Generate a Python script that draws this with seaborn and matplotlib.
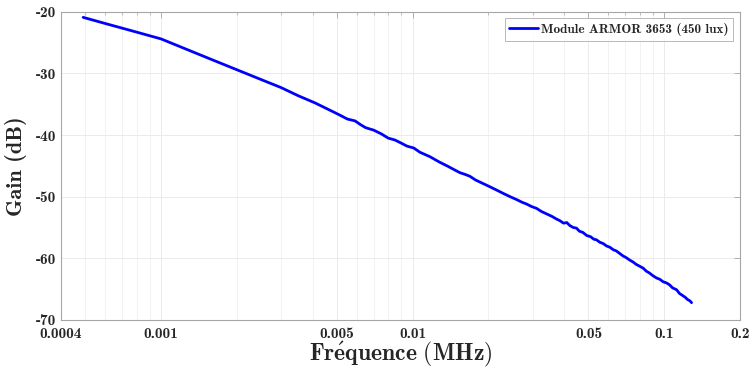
import numpy as np
import pandas as pd
import seaborn as sns
import matplotlib.pyplot as plt
from matplotlib import ticker

# values (frequency in MHz, gain in dB)
freq_mhz = [0.00049, 0.0006, 0.0008, 0.001, 0.0013, 0.0016, 0.002, 0.0025, 0.003, 0.0035,
            0.0041, 0.0046, 0.0051, 0.0055, 0.0059, 0.0062, 0.0065, 0.007, 0.0075, 0.008,
            0.0085, 0.009, 0.0095, 0.0101, 0.0107, 0.0117, 0.0128, 0.0137, 0.0146, 0.0154,
            0.0162, 0.0169, 0.0178, 0.0189, 0.0203, 0.0215, 0.023, 0.0244, 0.026, 0.0272,
            0.0284, 0.0297, 0.0311, 0.0325, 0.0341, 0.0358, 0.0372, 0.0385, 0.0398, 0.041,
            0.0422, 0.0435, 0.0448, 0.046, 0.0475, 0.0492, 0.051, 0.0525, 0.0538, 0.0555,
            0.0572, 0.059, 0.0608, 0.0627, 0.0645, 0.0665, 0.0685, 0.0707, 0.073, 0.0752,
            0.0775, 0.08, 0.0825, 0.085, 0.0875, 0.09, 0.0933, 0.096, 0.099, 0.1022,
            0.105, 0.108, 0.112, 0.115, 0.118, 0.121, 0.124, 0.1265, 0.1285]
gain_db = [-20.9, -21.9, -23.3, -24.4, -26.3, -27.8, -29.4, -31.0, -32.3, -33.6,
           -34.8, -35.8, -36.7, -37.4, -37.7, -38.3, -38.8, -39.2, -39.8, -40.5,
           -40.8, -41.3, -41.8, -42.1, -42.8, -43.5, -44.4, -45.0, -45.6, -46.1,
           -46.4, -46.7, -47.3, -47.8, -48.4, -48.9, -49.5, -50.0, -50.5, -50.9,
           -51.2, -51.6, -51.9, -52.4, -52.8, -53.2, -53.6, -53.9, -54.3, -54.2,
           -54.7, -55.0, -55.1, -55.6, -55.8, -56.3, -56.5, -56.9, -57.0, -57.4,
           -57.6, -58.0, -58.2, -58.6, -58.8, -59.2, -59.6, -59.9, -60.3, -60.6,
           -61.0, -61.3, -61.6, -62.1, -62.4, -62.8, -63.2, -63.4, -63.8, -64.0,
           -64.3, -64.8, -65.1, -65.7, -66.0, -66.3, -66.7, -66.9, -67.2]
series_name = 'Module ARMOR 3653 (450 lux)'
xtick_vals = [0.0004, 0.001, 0.005, 0.01, 0.05, 0.1, 0.2]
xtick_labels = ['0.0004', '0.001', '0.005', '0.01', '0.05', '0.1', '0.2']
ytick_vals = [-70, -60, -50, -40, -30, -20]

df = pd.DataFrame({'freq': freq_mhz, 'gain': gain_db, 'serie': series_name})

sns.set_theme(style='white')
plt.rcParams['font.family'] = ['cmb10', 'DejaVu Serif']
plt.rcParams['mathtext.fontset'] = 'cm'
plt.rcParams['axes.unicode_minus'] = False
plt.rcParams['axes.formatter.use_mathtext'] = False

fig = plt.figure(figsize=(7.56, 3.69), dpi=100)
ax = fig.add_axes([0.0807, 0.133, 0.898, 0.835])

sns.lineplot(data=df, x='freq', y='gain', hue='serie', palette=['#0000ff'],
             linewidth=2.0, ax=ax)

ax.set_xscale('log')
ax.set_xlim(0.0004, 0.2)
ax.set_ylim(-70, -20)
ax.xaxis.set_major_locator(ticker.FixedLocator(xtick_vals))
ax.xaxis.set_major_formatter(ticker.FixedFormatter(xtick_labels))
ax.xaxis.set_minor_locator(ticker.LogLocator(base=10, subs=np.arange(2, 10), numticks=20))
ax.xaxis.set_minor_formatter(ticker.NullFormatter())
ax.set_yticks(ytick_vals)
ax.set_yticklabels([str(v) for v in ytick_vals])

ax.grid(which='major', color='#ebebeb', linewidth=0.7)
ax.grid(which='minor', axis='x', color='#f0f0f0', linewidth=0.6)
ax.tick_params(which='both', direction='in', top=True, right=True, colors='#a6a6a6',
               labelcolor='#262626', labelsize=11)
ax.tick_params(axis='x', which='major', pad=5)
ax.tick_params(which='major', length=4, width=0.6)
ax.tick_params(which='minor', length=2.5, width=0.5)
for sp in ax.spines.values():
    sp.set_color('#a6a6a6')
    sp.set_linewidth(0.8)

ax.set_xlabel(r'$\mathbf{Fr\acute{e}quence\ (MHz)}$', fontsize=17, color='#262626', labelpad=-0.5)
ax.set_ylabel('Gain (dB)', fontsize=16, color='#262626', labelpad=6)

leg = ax.legend(loc='upper right', fontsize=9.5, frameon=True, fancybox=False,
                handlelength=2.2, handletextpad=0.2, borderpad=0.35,
                borderaxespad=0.5)
leg.get_frame().set_edgecolor('#a6a6a6')
leg.get_frame().set_linewidth(0.7)
for t in leg.get_texts():
    t.set_color('#262626')

fig.savefig('out.png', dpi=100)
